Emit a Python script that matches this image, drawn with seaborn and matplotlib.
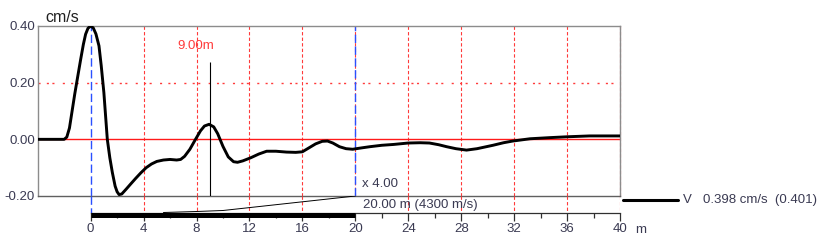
import numpy as np
import pandas as pd
import matplotlib
matplotlib.use("Agg")
import matplotlib.pyplot as plt
import seaborn as sns
from matplotlib.lines import Line2D

# ---------------- data ----------------
distance_m = [-4.0, -2.0, -1.8, -1.6, -1.38, -1.2, -1.0, -0.75, -0.55, -0.38, -0.2, 0.0,
              0.2, 0.4, 0.63, 0.8, 1.0, 1.26, 1.45, 1.64, 1.85, 2.0, 2.15, 2.35, 2.7,
              3.0, 3.4, 3.8, 4.2, 4.6, 5.0, 5.5, 6.0, 6.5, 6.8, 7.1, 7.5, 7.9, 8.3,
              8.6, 8.95, 9.3, 9.6, 10.0, 10.4, 10.8, 11.1, 11.5, 12.1, 12.7, 13.3,
              14.0, 14.8, 15.5, 16.0, 16.5, 17.0, 17.5, 17.9, 18.3, 18.8, 19.3, 19.8,
              20.5, 21.1, 22.0, 22.9, 24.0, 24.9, 25.6, 26.3, 26.9, 27.6, 28.4, 29.2,
              30.4, 31.2, 31.9, 33.2, 34.7, 36.0, 37.7, 40.0]
velocity_cms = [0.0, 0.0, 0.008, 0.04, 0.106, 0.16, 0.215, 0.283, 0.335, 0.371, 0.392, 0.40,
                0.393, 0.372, 0.33, 0.26, 0.165, 0.0, -0.065, -0.117, -0.165, -0.185,
                -0.195, -0.193, -0.175, -0.159, -0.138, -0.118, -0.1, -0.087, -0.078,
                -0.073, -0.071, -0.073, -0.071, -0.06, -0.035, -0.002, 0.03, 0.047,
                0.053, 0.044, 0.02, -0.025, -0.062, -0.079, -0.081, -0.076, -0.065,
                -0.052, -0.042, -0.042, -0.045, -0.046, -0.044, -0.03, -0.016, -0.007,
                -0.006, -0.013, -0.026, -0.033, -0.035, -0.03, -0.026, -0.021, -0.018,
                -0.013, -0.012, -0.013, -0.019, -0.026, -0.033, -0.038, -0.033, -0.021,
                -0.012, -0.006, 0.002, 0.006, 0.009, 0.012, 0.012]

x_major_ticks = [0, 4, 8, 12, 16, 20, 24, 28, 32, 36, 40]
x_minor_ticks = [2, 6, 10, 14, 18, 22, 26, 30, 34, 38]
x_grid = [4, 8, 12, 16, 20, 24, 28, 32, 36, 40]
y_ticks = [-0.2, 0.0, 0.2, 0.4]
y_tick_labels = ["-0.20", "0.00", "0.20", "0.40"]
x_range = [-4, 40]
y_range = [-0.2, 0.4]
cursor_lines = [0, 20]
window_range = [0, 20]
marker_x = 9.0
marker_top = 0.272
marker_label = "9.00m"
y_unit = "cm/s"
x_unit = "m"
gain_label = "x 4.00"
window_label = "20.00 m (4300 m/s)"
legend_name = "V"
legend_value = "0.398 cm/s  (0.401)"

# ---------------- figure ----------------
W, H = 831, 248
sns.set_theme(style="white")
plt.rcParams['font.family'] = ['Liberation Sans', 'DejaVu Sans']

TXT = '#3a3a52'
RED = '#ff3a3a'
BLUE = '#2a50ff'
SPINE = '#8c8c8c'
FS = 9.5

fig = plt.figure(figsize=(W / 100, H / 100), dpi=100)
fig.patch.set_facecolor('white')


def rect(l, t, r, b):
    return [l / W, 1 - b / H, (r - l) / W, (b - t) / H]


def fx(x):
    return x / W


def fy(y):
    return 1 - y / H


ax = fig.add_axes(rect(37.7, 26, 620, 196))
bax = fig.add_axes(rect(37.7, 196, 620, 222))

df = pd.DataFrame({"distance": distance_m, "velocity": velocity_cms})

# grid in main axes
for xg in x_grid:
    ax.axvline(xg, color=RED, lw=0.8, ls=(0, (3, 2)), zorder=1, clip_on=False)
ax.axhline(0.2, color=RED, lw=1.0, ls=(0, (1.5, 4.5, 1.5, 2.5, 1.5, 6)), zorder=1)
ax.axhline(0.0, color='#ff1a1a', lw=1.0, zorder=2)
for xc in cursor_lines:
    ax.axvline(xc, color=BLUE, lw=1.0, ls=(0, (6, 2.5)), zorder=2)

sns.lineplot(data=df, x="distance", y="velocity", ax=ax, color="black",
             lw=2.1, sort=False, zorder=5, legend=False)

ax.vlines(marker_x, y_range[0], marker_top, color='black', lw=0.8, zorder=4)
ax.text(marker_x + 0.3, 0.33, marker_label, ha='right', va='center',
        color=RED, fontsize=FS)

ax.set_xlim(*x_range)
ax.set_ylim(*y_range)
ax.set_xlabel("")
ax.set_ylabel("")
ax.set_xticks([])
ax.set_yticks(y_ticks)
ax.set_yticklabels(y_tick_labels)
ax.tick_params(axis='y', length=0, pad=2, labelsize=FS, labelcolor=TXT)
for s in ax.spines.values():
    s.set_color(SPINE)
    s.set_linewidth(1.0)
ax.spines['bottom'].set_color('#606060')
ax.set_facecolor('none')

ax.text(20.5, -0.159, gain_label, ha='left', va='center', fontsize=FS, color=TXT)

# ---------------- bottom scale strip ----------------
bax.set_xlim(*x_range)
bax.set_ylim(222, 196)
bax.set_facecolor('none')
for side in ['top', 'left', 'right']:
    bax.spines[side].set_visible(False)
bax.spines['bottom'].set_position(('data', 213))
bax.spines['bottom'].set_bounds(0, 40)
bax.spines['bottom'].set_color('#303030')
bax.spines['bottom'].set_linewidth(0.9)
bax.set_yticks([])
bax.set_xticks(x_major_ticks)
bax.set_xticklabels([str(t) for t in x_major_ticks])
bax.set_xticks(x_minor_ticks, minor=True)
bax.tick_params(axis='x', which='major', direction='out', length=5.8, width=0.9,
                color='#303030', labelsize=FS, labelcolor=TXT, pad=1.5, bottom=True)
bax.tick_params(axis='x', which='minor', direction='out', length=3.6, width=0.9,
                color='#303030', bottom=True)

bax.vlines([g for g in x_grid if g != 20], 196, 212.5, color=RED, lw=0.8,
           linestyles=(0, (3, 2)), zorder=1)
bax.vlines(cursor_lines[0], 196, 212.5, color=BLUE, lw=1.0,
           linestyles=(0, (6, 2.5)), zorder=1)
bax.plot(window_range, [214.5, 214.5], color='black', lw=3.6,
         solid_capstyle='butt', clip_on=False, zorder=3)
bax.plot([5.5, 8, 10, window_range[1]], [212.5, 211.5, 210.5, 196],
         color='black', lw=0.7, zorder=3)
bax.text(20.6, 204.5, window_label, ha='left', va='center', fontsize=FS, color=TXT)

# units
fig.text(fx(45), fy(17), y_unit, ha='left', va='center', fontsize=11.5, color='#202020')
fig.text(fx(635), fy(230), x_unit, ha='left', va='center', fontsize=FS, color=TXT)

# legend
fig.add_artist(Line2D([fx(623), fx(678)], [fy(200), fy(200)], color='black', lw=2.2))
fig.text(fx(683), fy(200), legend_name, ha='left', va='center', fontsize=FS, color=TXT)
fig.text(fx(703), fy(200), legend_value, ha='left', va='center', fontsize=FS, color=TXT)

fig.savefig("out.png", dpi=100)
